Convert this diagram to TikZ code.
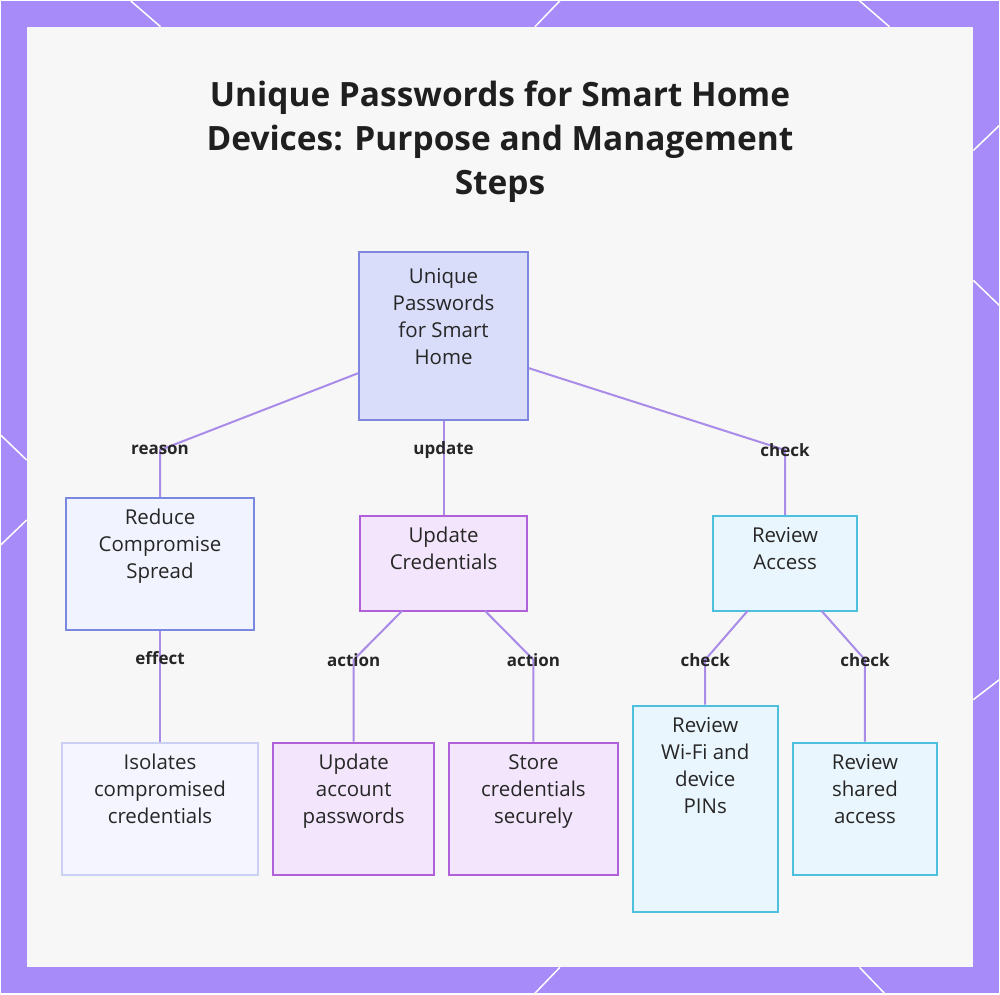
\documentclass[tikz,border=0pt]{standalone}
\usepackage{fontspec}
\setmainfont{Open Sans}
\usetikzlibrary{positioning}

\definecolor{frame}{HTML}{A78BF8}
\definecolor{panel}{HTML}{F7F7F8}
\definecolor{linkc}{HTML}{A98BE8}
\definecolor{rootfill}{HTML}{D9DDFA}
\definecolor{rootdraw}{HTML}{7E86E0}
\definecolor{bluefill}{HTML}{F1F3FE}
\definecolor{bluedraw}{HTML}{7B88E0}
\definecolor{purpfill}{HTML}{F3E6FC}
\definecolor{purpdraw}{HTML}{B060D8}
\definecolor{cyanfill}{HTML}{EAF6FD}
\definecolor{cyandraw}{HTML}{4CC0DD}

\tikzset{
  box/.style={draw,line width=2pt,align=center,inner sep=0pt,text depth=40pt,
    font=\fontsize{20.5}{27}\selectfont,text=black!85},
  rootbox/.style={box,fill=rootfill,draw=rootdraw},
  bluebox/.style={box,fill=bluefill,draw=bluedraw},
  purpbox/.style={box,fill=purpfill,draw=purpdraw},
  cyanbox/.style={box,fill=cyanfill,draw=cyandraw},
  edge/.style={draw=linkc,line width=2pt},
  tag/.style={font=\fontsize{17}{20}\selectfont\bfseries,text=black!85,inner sep=1pt}
}

\begin{document}
\begin{tikzpicture}[x=1pt,y=-1pt]
  \fill[frame] (0,0) rectangle (1000,994);
  \draw[white,line width=1.5pt] (130,0) -- (160,26) (560,0) -- (535,26) (860,0) -- (890,26)
    (974,150) -- (1000,125) (974,280) -- (1000,305) (974,700) -- (1000,680)
    (0,435) -- (26,460) (0,545) -- (26,520) (560,968) -- (535,994) (860,968) -- (885,994);
  \fill[panel] (26,26) rectangle (974,968);
  \node[font=\fontsize{33.5}{44}\selectfont\bfseries,align=center,text=black!88] (title) at (500,141)
    {Unique Passwords for Smart Home\\Devices: Purpose and Management\\Steps};
  %
  \node[rootbox,minimum width=169pt,minimum height=168pt] (root) at (443.5,336) {Unique\\Passwords\\for Smart\\Home};
  \node[bluebox,minimum width=189pt,minimum height=132pt] (reduce) at (159.5,564) {Reduce\\Compromise\\Spread};
  \node[purpbox,minimum width=167pt,minimum height=95pt,text depth=30pt] (updcred) at (443.5,563.5) {Update\\Credentials};
  \node[cyanbox,minimum width=145pt,minimum height=95pt,text depth=30pt] (review) at (785.5,563.5) {Review\\Access};
  %
  \node[bluebox,fill=bluefill!80!white,draw=bluedraw!40!white,minimum width=197pt,minimum height=133pt] (isolate) at (159.5,809.5) {Isolates\\compromised\\credentials};
  \node[purpbox,minimum width=161pt,minimum height=133pt] (updacct) at (353.5,809.5) {Update\\account\\passwords};
  \node[purpbox,minimum width=169pt,minimum height=133pt] (store) at (533.5,809.5) {Store\\credentials\\securely};
  \node[cyanbox,minimum width=145pt,minimum height=207pt,text depth=88pt] (wifi) at (705.5,809.5) {Review\\Wi-Fi and\\device\\PINs};
  \node[cyanbox,minimum width=145pt,minimum height=133pt] (shared) at (865.5,809.5) {Review\\shared\\access};
  %
  \coordinate (kreason) at (159.5,450);
  \coordinate (kupdate) at (443.5,450);
  \coordinate (kcheck) at (785.5,450);
  \coordinate (keffect) at (159.5,658);
  \coordinate (kact1) at (353.5,660);
  \coordinate (kact2) at (533.5,660);
  \coordinate (kchk1) at (705.5,660);
  \coordinate (kchk2) at (865.5,660);
  \draw[edge] (root.west |- 0,373) -- (kreason) -- (reduce);
  \draw[edge] (root) -- (updcred);
  \draw[edge] (root.east |- 0,368) -- (kcheck) -- (review);
  \draw[edge] (reduce) -- (isolate);
  \draw[edge] (402,611) -- (kact1) -- (updacct);
  \draw[edge] (485,611) -- (kact2) -- (store);
  \draw[edge] (748,611) -- (kchk1) -- (wifi);
  \draw[edge] (822,611) -- (kchk2) -- (shared);
  \node[tag] (lreason) at (kreason) {reason};
  \node[tag] (lupdate) at (kupdate) {update};
  \node[tag] (lcheck) at (kcheck) {check};
  \node[tag] (leffect) at (keffect) {effect};
  \node[tag] (lact1) at (kact1) {action};
  \node[tag] (lact2) at (kact2) {action};
  \node[tag] (lchk1) at (kchk1) {check};
  \node[tag] (lchk2) at (kchk2) {check};
\end{tikzpicture}
\end{document}
